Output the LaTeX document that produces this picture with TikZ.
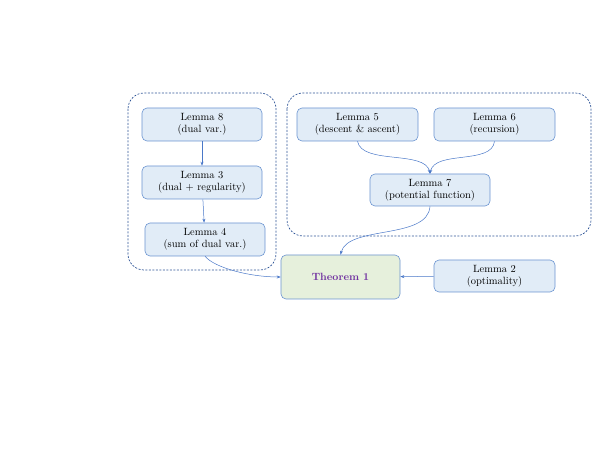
\documentclass[tikz,border=0pt]{standalone}
\usetikzlibrary{arrows.meta}
\definecolor{boxfill}{HTML}{E1ECF7}
\definecolor{boxline}{HTML}{6A93D0}
\definecolor{thmfill}{HTML}{E6F0DC}
\definecolor{grpline}{HTML}{2F5597}
\definecolor{arr}{HTML}{4A78C8}
\definecolor{thmtext}{HTML}{7030A0}
\begin{document}
\begin{tikzpicture}[x=1pt,y=-1pt,
  lem/.style={draw=boxline, fill=boxfill, rounded corners=5pt, line width=0.6pt,
    minimum width=120pt, minimum height=33pt, align=center, inner sep=1pt,
    font=\fontsize{10.5}{12}\selectfont},
  grp/.style={draw=grpline, dashed, dash pattern=on 2pt off 1.5pt, rounded corners=16pt, line width=0.7pt},
  con/.style={draw=arr, line width=0.5pt, -{Stealth[length=4pt,width=3pt]}}]
\useasboundingbox (0,0) rectangle (598,462);
\draw[grp] (128,93) rectangle (276,270);
\draw[grp] (287,93) rectangle (591,236);
\node[lem] (l8) at (202,124.5) {Lemma 8\\(dual var.)};
\node[lem] (l3) at (202,182.5) {Lemma 3\\(dual + regularity)};
\node[lem] (l4) at (205,239.5) {Lemma 4\\(sum of dual var.)};
\node[lem, minimum width=121pt] (l5) at (357.5,124.5) {Lemma 5\\(descent \& ascent)};
\node[lem, minimum width=121pt] (l6) at (494.5,124.5) {Lemma 6\\(recursion)};
\node[lem, minimum height=32pt] (l7) at (430,190) {Lemma 7\\(potential function)};
\node[lem, fill=thmfill, minimum width=119pt, minimum height=44pt, font=\fontsize{10.5}{12}\selectfont\bfseries, text=thmtext] (t1) at (340.5,277) {Theorem 1};
\node[lem, minimum width=121pt, minimum height=32pt] (l2) at (494.5,276) {Lemma 2\\(optimality)};
\draw[con] (l8) -- (l3);
\draw[con] (l3) -- (l4);
\draw[con] (l4.south) .. controls (215,268) and (250,277) .. (t1.west);
\draw[con] (l5.south) .. controls (362,165) and (425,150) .. (l7.north);
\draw[con] (l6.south) .. controls (492,165) and (435,150) .. (l7.north);
\draw[con] (l7.south) .. controls (428,240) and (348,225) .. (t1.north);
\draw[con] (l2) -- (t1);
\end{tikzpicture}
\end{document}
